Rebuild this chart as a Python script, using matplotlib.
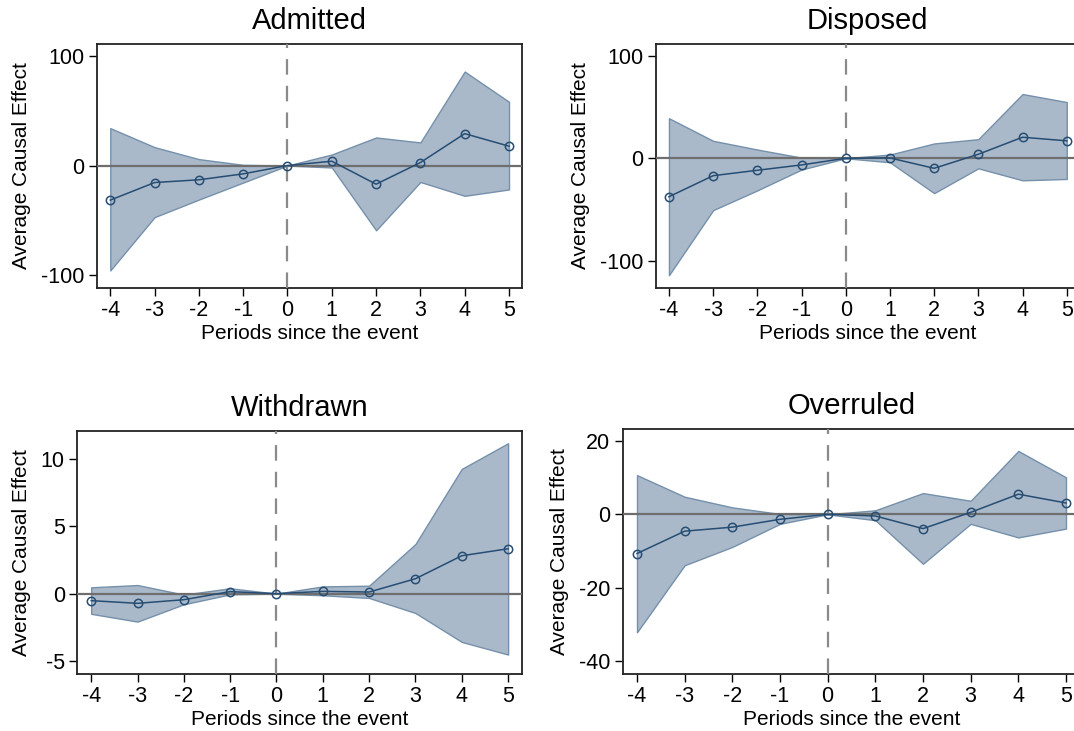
import matplotlib
matplotlib.use("Agg")
import matplotlib.pyplot as plt
import numpy as np

plt.rcParams['font.family'] = ['Liberation Sans', 'DejaVu Sans']

periods = [-4, -3, -2, -1, 0, 1, 2, 3, 4, 5]
xtick_labels = ['-4', '-3', '-2', '-1', '0', '1', '2', '3', '4', '5']

titles = ['Admitted', 'Disposed', 'Withdrawn', 'Overruled']

admitted_est = [-31.5, -15.5, -13, -7.6, 0, 3.9, -17, 2.7, 29, 17.6]
admitted_hi = [34, 16.7, 5.8, 0.6, 0, 10, 25.5, 21, 85.5, 58]
admitted_lo = [-95.5, -47, -31, -15.5, 0, -1.8, -59, -15, -27.6, -21.8]

disposed_est = [-37.5, -17, -11.7, -6.5, 0, 0.3, -9.8, 3.9, 20.5, 17]
disposed_hi = [39, 17, 8.5, 0.6, 0, 3.6, 14.4, 18.6, 62.6, 54.8]
disposed_lo = [-114, -50.6, -31.3, -11, 0, -3.9, -34, -9.8, -21.5, -20.2]

withdrawn_est = [-0.52, -0.72, -0.45, 0.15, 0, 0.17, 0.12, 1.11, 2.82, 3.34]
withdrawn_hi = [0.47, 0.64, -0.07, 0.4, 0, 0.54, 0.59, 3.69, 9.28, 11.19]
withdrawn_lo = [-1.5, -2.08, -0.79, -0.05, 0, -0.12, -0.32, -1.44, -3.59, -4.53]

overruled_est = [-10.7, -4.6, -3.5, -1.36, 0, -0.45, -3.9, 0.54, 5.5, 3.1]
overruled_hi = [10.7, 4.8, 1.9, 0.1, 0, 1.1, 5.8, 3.7, 17.3, 10.1]
overruled_lo = [-32.2, -13.9, -8.9, -2.6, 0, -1.6, -13.5, -2.6, -6.3, -3.9]

yticks_list = [[-100, 0, 100], [-100, 0, 100], [-5, 0, 5, 10], [-40, -20, 0, 20]]
ylims = [(-111.5, 110.6), (-126.5, 111.4), (-5.94, 12.1), (-43.6, 23.3)]

W, H = 1074, 731
boxes = [  # left, right, top, bottom in pixels
    (97, 522.3, 44, 288),
    (655.7, 1080, 44, 288),
    (77.3, 522, 431, 673.5),
    (622.7, 1080.3, 429, 674),
]

series = [
    (admitted_est, admitted_lo, admitted_hi),
    (disposed_est, disposed_lo, disposed_hi),
    (withdrawn_est, withdrawn_lo, withdrawn_hi),
    (overruled_est, overruled_lo, overruled_hi),
]

fill_color = '#aab9c9'
edge_color = '#7590ab'
line_color = '#264d73'

fig = plt.figure(figsize=(W / 100, H / 100), dpi=100)
for i, (box, (est, lo, hi)) in enumerate(zip(boxes, series)):
    l, r, t, b = box
    ax = fig.add_axes([l / W, 1 - b / H, (r - l) / W, (b - t) / H])
    ax.fill_between(periods, lo, hi, facecolor=fill_color, edgecolor=edge_color,
                    linewidth=1.0, zorder=2)
    ax.axhline(0, color='#6e6e6e', linewidth=1.6, zorder=3)
    ax.axvline(0, color='#8a8a8a', linewidth=1.6, linestyle=(0, (7, 5)), zorder=3)
    ax.plot(periods, est, color=line_color, linewidth=1.1, marker='o',
            markersize=6, markerfacecolor='none', markeredgecolor=line_color,
            markeredgewidth=1.1, zorder=4)
    ax.set_xlim(-4.3, 5.3)
    ax.set_ylim(*ylims[i])
    ax.set_xticks(periods)
    ax.set_xticklabels(xtick_labels)
    ax.set_yticks(yticks_list[i])
    ax.set_yticklabels([str(v) for v in yticks_list[i]])
    ax.tick_params(axis='both', direction='out', length=6, width=1.0,
                   labelsize=15.5, color='black', pad=3)
    for s in ax.spines.values():
        s.set_linewidth(1.3)
        s.set_color('#222222')
    ax.set_title(titles[i], fontsize=21, pad=11)
    ax.set_xlabel('Periods since the event', fontsize=15, labelpad=2)
    ax.set_ylabel('Average Causal Effect', fontsize=15, labelpad=7)

fig.savefig('out.png', dpi=100)
